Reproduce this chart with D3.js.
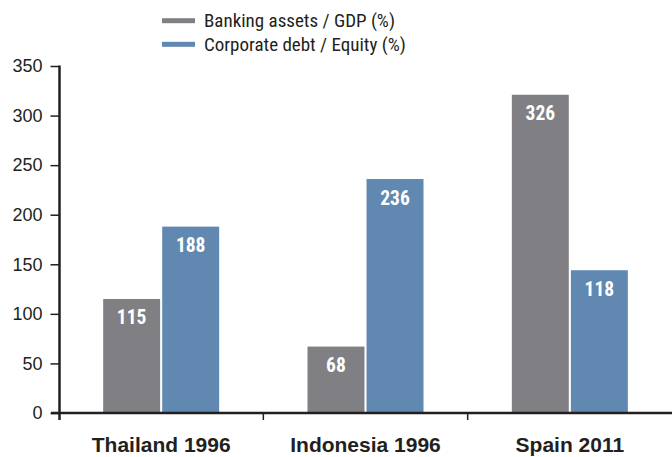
<!DOCTYPE html>
<html>
<head>
<meta charset="utf-8">
<script src="https://cdn.jsdelivr.net/npm/d3@7"></script>
<style>
  html, body { margin: 0; padding: 0; background: #fff; }
  svg { display: block; }
</style>
</head>
<body>
<div id="chart"></div>
<script>
// ---- data ----
const categories = ["Thailand 1996", "Indonesia 1996", "Spain 2011"];
const seriesNames = ["Banking assets / GDP (%)", "Corporate debt / Equity (%)"];
const seriesColors = ["#808084", "#6188b0"];
// bar heights as drawn in the picture
const bankingValues = [115, 67, 321];
const debtValues = [188, 236, 144];
// numbers printed on the bars
const bankingLabels = ["115", "68", "326"];
const debtLabels = ["188", "236", "118"];
const yTicks = [0, 50, 100, 150, 200, 250, 300, 350];

const width = 672;
const height = 457;
const ink = "#231f20";
const condensed = "'Roboto Condensed', 'DejaVu Sans Condensed', sans-serif";

const svg = d3.select("#chart").append("svg")
    .attr("width", width)
    .attr("height", height);

// ---- scales ----
const x0 = d3.scaleBand()
    .domain(categories)
    .range([59, 672])
    .padding(0);

const bw = x0.bandwidth();
const x1 = d3.scaleBand()
    .domain(seriesNames)
    .range([bw / 2 - 58, bw / 2 + 58])
    .paddingInner(0.035);

const y = d3.scaleLinear()
    .domain([0, 350])
    .range([413, 66]);

const rows = categories.map((c, i) => ({
    category: c,
    bars: [
        { series: seriesNames[0], value: bankingValues[i], label: bankingLabels[i], color: seriesColors[0] },
        { series: seriesNames[1], value: debtValues[i], label: debtLabels[i], color: seriesColors[1] }
    ]
}));

// ---- bars ----
const groups = svg.append("g")
    .selectAll("g")
    .data(rows)
    .join("g")
    .attr("transform", d => `translate(${x0(d.category)},0)`);

groups.selectAll("rect")
    .data(d => d.bars)
    .join("rect")
    .attr("x", d => x1(d.series))
    .attr("y", d => y(d.value))
    .attr("width", x1.bandwidth())
    .attr("height", d => y(0) - y(d.value))
    .attr("fill", d => d.color);

groups.selectAll("text")
    .data(d => d.bars)
    .join("text")
    .attr("x", d => x1(d.series) + x1.bandwidth() / 2)
    .attr("y", d => y(d.value) + 25.5)
    .attr("text-anchor", "middle")
    .attr("fill", "#fff")
    .style("font-family", condensed)
    .style("font-weight", "bold")
    .style("font-size", "19.5px")
    .text(d => d.label);

// ---- y axis ----
const yAxis = svg.append("g")
    .attr("transform", "translate(59.5,0)")
    .call(d3.axisLeft(y).tickValues(yTicks).tickSize(9).tickSizeOuter(0).tickPadding(8));

yAxis.select(".domain").remove();
yAxis.selectAll(".tick line").attr("stroke", ink).attr("stroke-width", 1.5);
yAxis.selectAll(".tick text")
    .attr("fill", ink)
    .style("font-family", "'Liberation Sans', Arial, sans-serif")
    .style("font-size", "18px");

// vertical axis line runs a bit below the baseline
svg.append("line")
    .attr("x1", 59.5).attr("x2", 59.5)
    .attr("y1", y(350) - 0.5).attr("y2", 420)
    .attr("stroke", ink)
    .attr("stroke-width", 2.5);

// ---- x axis ----
svg.append("line")
    .attr("x1", 51).attr("x2", width)
    .attr("y1", y(0)).attr("y2", y(0))
    .attr("stroke", ink)
    .attr("stroke-width", 2.5);

svg.append("g")
    .selectAll("line")
    .data(categories.slice(1))
    .join("line")
    .attr("x1", d => x0(d)).attr("x2", d => x0(d))
    .attr("y1", y(0)).attr("y2", 420)
    .attr("stroke", ink)
    .attr("stroke-width", 1.5);

const xAxis = svg.append("g")
    .attr("transform", `translate(0,${y(0)})`)
    .call(d3.axisBottom(x0).tickSize(0).tickPadding(24));

xAxis.select(".domain").remove();
xAxis.selectAll(".tick text")
    .attr("fill", ink)
    .style("font-family", "'Liberation Sans', Arial, sans-serif")
    .style("font-weight", "bold")
    .style("font-size", "21px");

// ---- legend ----
const legend = svg.append("g")
    .selectAll("g")
    .data(seriesNames)
    .join("g")
    .attr("transform", (d, i) => `translate(162,${20.7 + i * 23.6})`);

legend.append("rect")
    .attr("x", 0)
    .attr("y", -2.5)
    .attr("width", 33)
    .attr("height", 5)
    .attr("fill", (d, i) => seriesColors[i]);

legend.append("text")
    .attr("x", 42)
    .attr("y", 6.5)
    .attr("fill", ink)
    .style("font-family", condensed)
    .style("font-size", "19px")
    .text(d => d);
</script>
</body>
</html>
